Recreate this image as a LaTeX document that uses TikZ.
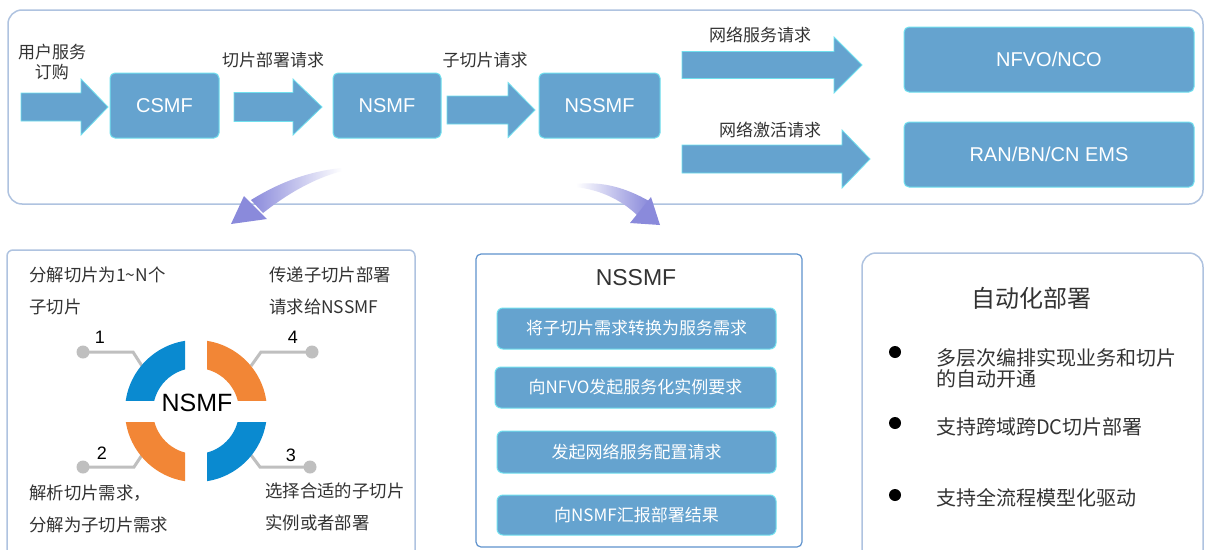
\documentclass[tikz,border=0pt]{standalone}
\usepackage{fontspec}
\setmainfont{Liberation Sans}
\newfontfamily\cjk{Noto Sans CJK SC}
\usetikzlibrary{calc}
\definecolor{boxfill}{HTML}{65A3CF}
\definecolor{boxedge}{HTML}{70E0EE}
\definecolor{panelline}{HTML}{AFC3E0}
\definecolor{midline}{HTML}{5F92CD}
\definecolor{txt}{HTML}{333333}
\definecolor{ringblue}{HTML}{0A8AD0}
\definecolor{ringorange}{HTML}{F28636}
\definecolor{conn}{HTML}{BFBFBF}
\definecolor{curv}{HTML}{8A8ADB}
\tikzset{
  panel/.style={draw=panelline, line width=1.5pt, fill=white},
  fbox/.style={fill=boxfill, draw=boxedge, line width=1pt, rounded corners=5pt, text=white,
    font=\fontsize{20}{24}\selectfont, inner sep=0pt, minimum height=65pt},
  mbox/.style={fill=boxfill, draw=boxedge, line width=1pt, rounded corners=6pt, text=white,
    font=\cjk\fontsize{17}{20}\selectfont, inner sep=0pt},
  blk/.style={fill=boxfill, draw=boxedge, line width=0.8pt},
  lbl/.style={text=txt, font=\cjk\fontsize{17}{20}\selectfont, inner sep=0pt},
  ptxt/.style={text=txt, font=\cjk\fontsize{17.4}{32}\selectfont, inner sep=0pt, align=left, anchor=west},
  btxt/.style={text=txt, font=\cjk\fontsize{20}{21}\selectfont, inner sep=0pt, align=left, anchor=west},
  num/.style={text=black, font=\fontsize{18}{20}\selectfont, inner sep=0pt},
  dotnode/.style={circle, fill=conn, inner sep=0pt, minimum size=13pt},
  bullet/.style={circle, fill=black, inner sep=0pt, minimum size=12pt},
  connline/.style={draw=conn, line width=3pt},
}
\newcommand{\blkarrow}[6]{\path[blk] ({#1},{#4-#5}) -- ({#2},{#4-#5}) -- ({#2},{#4-#6}) -- ({#3},{#4}) -- ({#2},{#4+#6}) -- ({#2},{#4+#5}) -- ({#1},{#4+#5}) -- cycle;}
\begin{document}
\begin{tikzpicture}[x=1pt,y=-1pt]
\useasboundingbox (0,0) rectangle (1205,549);
\clip (0,0) rectangle (1205,549);
\fill[white] (0,0) rectangle (1205,549);

% ---------- top panel ----------
\draw[panel, rounded corners=14pt] (8,10) rectangle (1203,204);

\blkarrow{21}{81}{108}{107}{14}{28}
\blkarrow{234}{293}{322}{107}{14.5}{28}
\blkarrow{447}{508}{535}{110}{14}{27.5}
\blkarrow{682}{834}{862}{65}{13.5}{28}
\blkarrow{682}{842}{870}{159}{14}{29}

\node[lbl, align=center] (l0) at (52,62) {用户服务\\订购};
\node[lbl] (l1) at (273,60) {切片部署请求};
\node[lbl] (l2) at (485,60) {子切片请求};
\node[lbl] (l3) at (760,35) {网络服务请求};
\node[lbl] (l4) at (770,130) {网络激活请求};

\node[fbox, minimum width=109pt] (csmf) at (164.5,105.5) {CSMF};
\node[fbox, minimum width=108pt] (nsmf) at (387,105.5) {NSMF};
\node[fbox, minimum width=121pt] (nssmf) at (599.5,105.5) {NSSMF};
\node[fbox, minimum width=290pt] (nfvo) at (1049,59.5) {NFVO/NCO};
\node[fbox, minimum width=290pt] (ems) at (1049,154.5) {RAN/BN/CN EMS};

% ---------- bottom panels ----------
\draw[panel, rounded corners=6pt] (7,250) rectangle (415,570);
\draw[panel, draw=midline, line width=1.2pt, rounded corners=5pt] (476,254) rectangle (802,547);
\draw[panel, rounded corners=14pt] (862,253) rectangle (1203,570);

% curved arrows
\shade[left color=curv, middle color=curv!80, right color=white]
  (251,200) .. controls (280,182) and (310,171) .. (342,168)
  -- (342,171) .. controls (312,179) and (286,195) .. (263,213) -- cycle;
\fill[curv] (244,196) -- (267,219) -- (231,224) -- cycle;
\shade[left color=white, middle color=curv!80, right color=curv]
  (576,184) .. controls (603,181) and (626,188) .. (649,201)
  -- (637,215) .. controls (620,199) and (600,190) .. (576,187) -- cycle;
\fill[curv] (630,223) -- (651,197) -- (660,225) -- cycle;

% ---------- left panel: NSMF ring ----------
\node[ptxt] (t1) at (29,291) {分解切片为1\textasciitilde N个\\子切片};
\node[ptxt] (t4) at (269,291) {传递子切片部署\\请求给NSSMF};
\node[ptxt] (t2) at (29,509) {解析切片需求，\\分解为子切片需求};
\node[ptxt] (t3) at (265,507) {选择合适的子切片\\实例或者部署};

\node[num] (n1) at (100,337) {1};
\node[num] (n4) at (293,337) {4};
\node[num] (n2) at (102,453) {2};
\node[num] (n3) at (291,455) {3};

\node[dotnode] (d1) at (83,352) {};
\node[dotnode] (d4) at (312,352) {};
\node[dotnode] (d2) at (83,467) {};
\node[dotnode] (d3) at (310,467) {};
\coordinate (r1) at (142,366);
\coordinate (r4) at (251,366);
\coordinate (r2) at (142,455);
\coordinate (r3) at (251,455);
\draw[connline] (d1.center) -- (133,352) -- (r1);
\draw[connline] (d4.center) -- (261,352) -- (r4);
\draw[connline] (d2.center) -- (134,467) -- (r2);
\draw[connline] (d3.center) -- (260,467) -- (r3);

\coordinate (rc) at (196,411);
\begin{scope}
  \clip (110,330) rectangle (185,400);
  \fill[ringblue, even odd rule] (rc) circle[radius=71pt] (rc) circle[radius=43pt];
\end{scope}
\begin{scope}
  \clip (207,330) rectangle (285,400);
  \fill[ringorange, even odd rule] (rc) circle[radius=71pt] (rc) circle[radius=43pt];
\end{scope}
\begin{scope}
  \clip (110,422) rectangle (185,495);
  \fill[ringorange, even odd rule] (rc) circle[radius=71pt] (rc) circle[radius=43pt];
\end{scope}
\begin{scope}
  \clip (207,422) rectangle (285,495);
  \fill[ringblue, even odd rule] (rc) circle[radius=71pt] (rc) circle[radius=43pt];
\end{scope}
\node[inner sep=0pt, font=\fontsize{25}{28}\selectfont] (ring) at (197,403) {NSMF};

% ---------- middle panel ----------
\node[inner sep=0pt, text=txt, font=\fontsize{23}{26}\selectfont] (mt) at (636,278) {NSSMF};
\node[mbox, minimum width=279pt, minimum height=41pt] (m1) at (636.5,328.5) {将子切片需求转换为服务需求};
\node[mbox, minimum width=281pt, minimum height=41pt] (m2) at (635.5,387.5) {向NFVO发起服务化实例要求};
\node[mbox, minimum width=279pt, minimum height=42pt] (m3) at (636.5,452) {发起网络服务配置请求};
\node[mbox, minimum width=279pt, minimum height=40pt] (m4) at (636.5,515) {向NSMF汇报部署结果};

% ---------- right panel ----------
\node[inner sep=0pt, text=txt, font=\cjk\fontsize{24}{28}\selectfont] (rt) at (1031,298) {自动化部署};
\node[bullet] (b1) at (895,352) {};
\node[bullet] (b2) at (895,423) {};
\node[bullet] (b3) at (895,495) {};
\node[btxt] (bt1) at (936,368.5) {多层次编排实现业务和切片\\的自动开通};
\node[btxt] (bt2) at (936,427) {支持跨域跨DC切片部署};
\node[btxt] (bt3) at (936,498) {支持全流程模型化驱动};
\end{tikzpicture}
\end{document}
